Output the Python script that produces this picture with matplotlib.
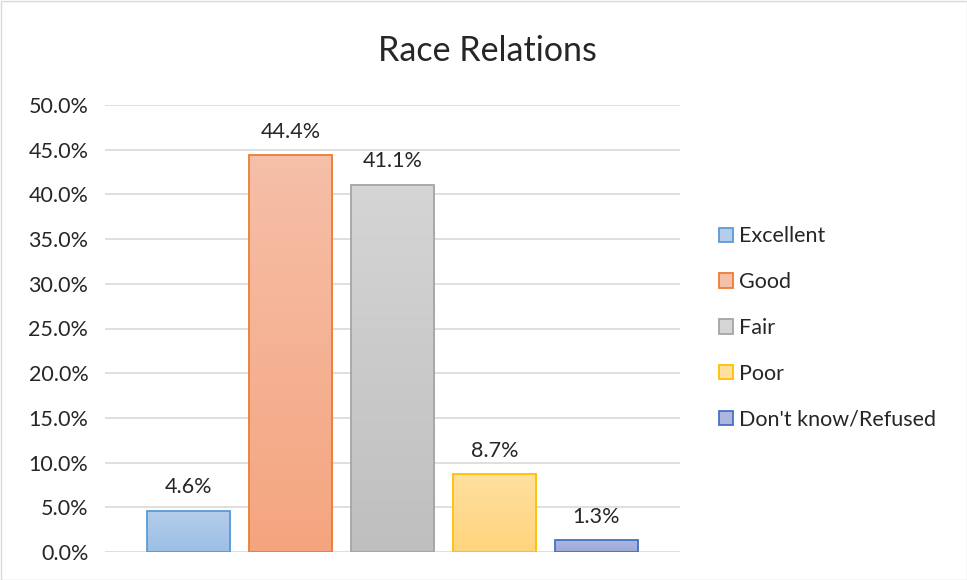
import matplotlib
matplotlib.use("Agg")
import matplotlib.pyplot as plt
import numpy as np
from matplotlib.patches import Rectangle
from matplotlib.colors import LinearSegmentedColormap

categories = ["Excellent", "Good", "Fair", "Poor", "Don't know/Refused"]
values = [4.6, 44.4, 41.1, 8.7, 1.3]
yticks = [0, 5, 10, 15, 20, 25, 30, 35, 40, 45, 50]
title = "Race Relations"

edge_colors = ["#5b9bd5", "#ed7d31", "#a5a5a5", "#ffc000", "#4472c4"]
top_colors = ["#b5cdea", "#f6bfa8", "#d5d5d5", "#ffe0a0", "#acb6de"]
bot_colors = ["#9bbfe5", "#f4a57f", "#bfbfbf", "#ffd47c", "#9ca9d8"]

plt.rcParams['font.family'] = ['Lato', 'DejaVu Sans']

fig = plt.figure(figsize=(9.67, 5.8), dpi=100)
ax = fig.add_axes([105/967, 1-552/580, 575/967, (552-105)/580])

x = np.arange(len(categories))
width = 0.814
bars = ax.bar(x, values, width=width, color='none', edgecolor=edge_colors, linewidth=1.3, zorder=3)
for b, tc, bc in zip(bars, top_colors, bot_colors):
    cmap = LinearSegmentedColormap.from_list("g", [bc, tc])
    grad = np.linspace(0, 1, 100).reshape(-1, 1)
    im = ax.imshow(grad, cmap=cmap, origin='lower', aspect='auto',
                   extent=[b.get_x(), b.get_x() + b.get_width(), 0, b.get_height()], zorder=2)
    im.set_clip_path(b)

for xi, v in zip(x, values):
    ax.text(xi, v + 1.5, f"{v:.1f}%", ha='center', va='bottom', fontsize=15.5, color='#262626')

ax.set_xlim(-0.819, 4.819)
ax.set_ylim(0, 50)
ax.set_yticks(yticks)
ax.set_yticklabels([f"{t:.1f}%" for t in yticks], fontsize=15.5, color='#262626')
ax.set_xticks([])
ax.tick_params(axis='y', length=0, pad=12)
ax.grid(axis='y', color='#d9d9d9', linewidth=1.2, zorder=0)
for s in ax.spines.values():
    s.set_visible(False)

fig.text(487/967, 1-51/580, title, ha='center', va='center', fontsize=24.5, color='#262626')

handles = [Rectangle((0, 0), 1, 1, facecolor=tc, edgecolor=ec, linewidth=1.3)
           for tc, ec in zip(top_colors, edge_colors)]
leg = fig.legend(handles, categories, loc='center left', bbox_to_anchor=(719/967, 1-328/580),
                 frameon=False, fontsize=15.5, handlelength=0.65, handleheight=0.65,
                 handletextpad=0.3, labelspacing=1.2, borderaxespad=0, borderpad=0)
for t in leg.get_texts():
    t.set_color('#262626')

fig.add_artist(Rectangle((0.5/967, 0.5/580), 1-1/967, 1-1/580, transform=fig.transFigure,
                         fill=False, edgecolor='#d9d9d9', linewidth=1))

fig.savefig("out.png", dpi=100)
